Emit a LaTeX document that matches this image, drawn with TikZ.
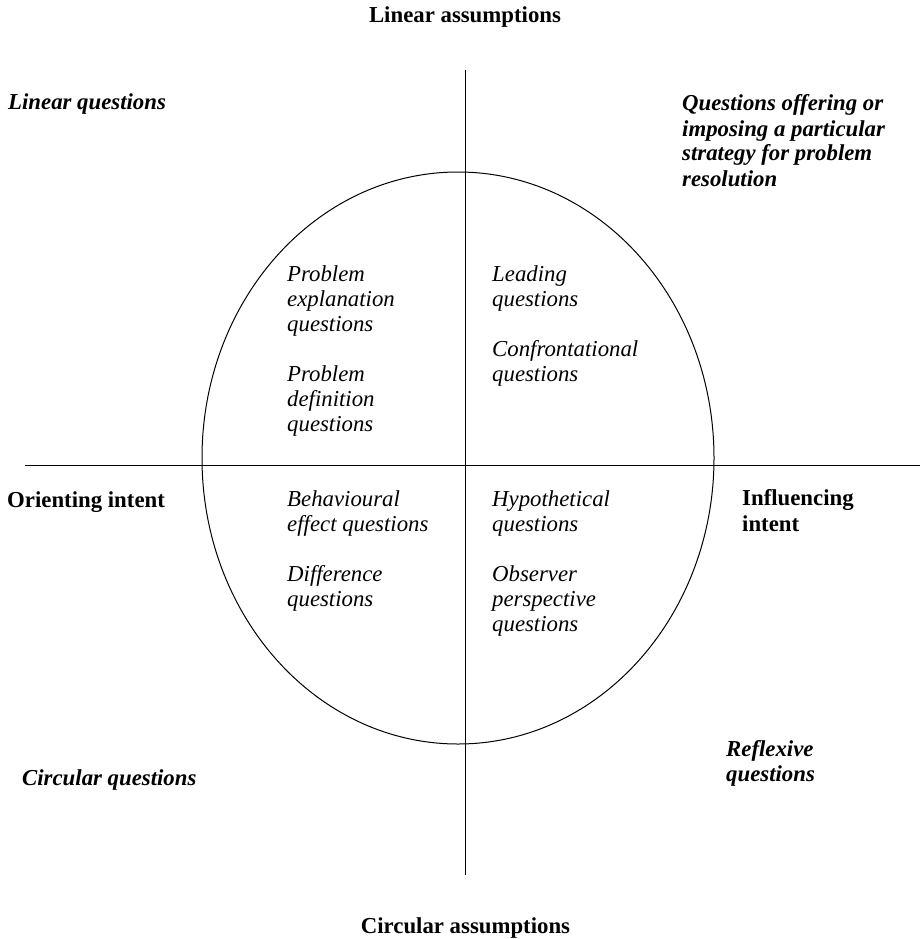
\documentclass[tikz,border=0pt]{standalone}
\usepackage{fontspec}
\setmainfont{Liberation Serif}
\usetikzlibrary{shapes.geometric}
\newcommand{\tbl}[1]{\begin{tabular}[t]{@{}l@{}}#1\end{tabular}}
\begin{document}
\begin{tikzpicture}[x=1pt,y=-1pt,
  txt/.style={inner sep=0pt, anchor=base west, font=\fontsize{22.8}{25}\selectfont},
  it/.style={txt, font=\fontsize{22.8}{25}\selectfont\itshape},
  bi/.style={txt, font=\fontsize{22.8}{25}\selectfont\bfseries\itshape},
  bf/.style={txt, font=\fontsize{22.8}{25}\selectfont\bfseries},
  axis/.style={line width=0.9pt}]
\useasboundingbox (0,0) rectangle (920,939);
\fill[white] (0,0) rectangle (920,939);
% axes
\coordinate (vt) at (465,70);
\coordinate (vb) at (465,875);
\coordinate (hl) at (25,465);
\coordinate (hr) at (920,465);
\draw[axis] (vt) -- (vb);
\draw[axis] (hl) -- (hr);
\node[draw, line width=1pt, ellipse, minimum width=512pt, minimum height=572pt, inner sep=0pt] (oval) at (458,458) {};
% axis labels
\node[bf, anchor=base] (la) at (465,23) {Linear assumptions};
\node[bf, anchor=base] (ca) at (465.5,933) {Circular assumptions};
\node[bf] (oi) at (7,507) {Orienting intent};
\node[bf] (ii) at (742,505) {\tbl{Influencing\\[1pt]intent}};
% corner labels
\node[bi] (lq) at (8,110) {Linear questions};
\node[bi] (qo) at (682,111) {\tbl{Questions offering or\\imposing a particular\\strategy for problem\\resolution}};
\node[bi] (cq) at (22,785) {Circular questions};
\node[bi] (rq) at (726,756) {\tbl{Reflexive\\questions}};
% inner labels
\node[it] (pe) at (287,281) {\tbl{Problem\\explanation\\questions}};
\node[it] (pd) at (287,381) {\tbl{Problem\\definition\\questions}};
\node[it] (ld) at (492,281) {\tbl{Leading\\questions}};
\node[it] (cf) at (492,356) {\tbl{Confrontational\\questions}};
\node[it] (be) at (287,506) {\tbl{Behavioural\\effect questions}};
\node[it] (df) at (287,581) {\tbl{Difference\\questions}};
\node[it] (hy) at (492,506) {\tbl{Hypothetical\\questions}};
\node[it] (ob) at (492,581) {\tbl{Observer\\perspective\\questions}};
\end{tikzpicture}
\end{document}
